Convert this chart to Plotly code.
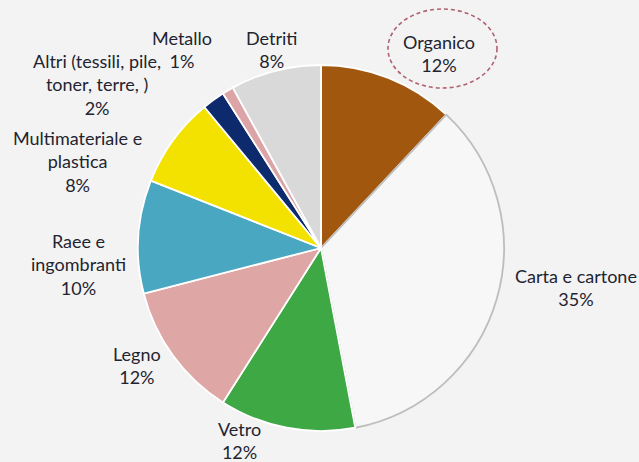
import plotly.graph_objects as go

# Composizione dei rifiuti (percentuali), in senso orario da ore 12
categories = [
    "Organico",
    "Carta e cartone",
    "Vetro",
    "Legno",
    "Raee e<br>ingombranti",
    "Multimateriale e<br>plastica",
    "Altri (tessili, pile,<br>toner, terre, )",
    "Metallo",
    "Detriti",
]
values = [12, 35, 12, 12, 10, 8, 2, 1, 8]
colors = ["#A2570F", "#F7F7F7", "#3EA845", "#DFA6A6", "#4AA7C1",
          "#F3E200", "#0D2B6C", "#DCA4A7", "#D9D9D9"]
line_colors = ["#FFFFFF", "#BDBDBD", "#FFFFFF", "#FFFFFF", "#FFFFFF",
               "#FFFFFF", "#FFFFFF", "#FFFFFF", "#FFFFFF"]

# Centro di ciascuna etichetta (pixel)
label_pos = [
    (439, 53),
    (576, 287),
    (239, 440),
    (137, 365),
    (78, 264),
    (77, 161),
    (97, 85),
    (182, 49),
    (271, 49),
]

W, H = 639, 462
cx, cy, r = 321, 248, 183

fig = go.Figure(go.Pie(
    labels=categories,
    values=values,
    sort=False,
    direction="clockwise",
    rotation=0,
    textinfo="none",
    hoverinfo="label+percent",
    marker=dict(colors=colors, line=dict(color=line_colors, width=1.8)),
    domain=dict(x=[(cx - r) / W, (cx + r) / W], y=[1 - (cy + r) / H, 1 - (cy - r) / H]),
    showlegend=False,
))

total = sum(values)
annotations = []
for name, v, (x, y) in zip(categories, values, label_pos):
    pct = round(100 * v / total)
    annotations.append(dict(
        x=x / W, y=1 - y / H, xref="paper", yref="paper",
        text=f"{name}<br>{pct}%", showarrow=False, align="center",
        xanchor="center", yanchor="middle",
        font=dict(family="Lato, Open Sans, sans-serif", size=18, color="#1F2430"),
    ))

fig.update_layout(
    width=W, height=H,
    margin=dict(l=0, r=0, t=0, b=0),
    paper_bgcolor="#F3F3F3",
    plot_bgcolor="#F3F3F3",
    annotations=annotations,
    shapes=[dict(
        type="circle", xref="paper", yref="paper",
        x0=388 / W, x1=497 / W, y0=1 - 88 / H, y1=1 - 9 / H,
        line=dict(color="#B0616F", width=1.6, dash="4px,3px"),
    )],
)

fig.write_html("out.html")
